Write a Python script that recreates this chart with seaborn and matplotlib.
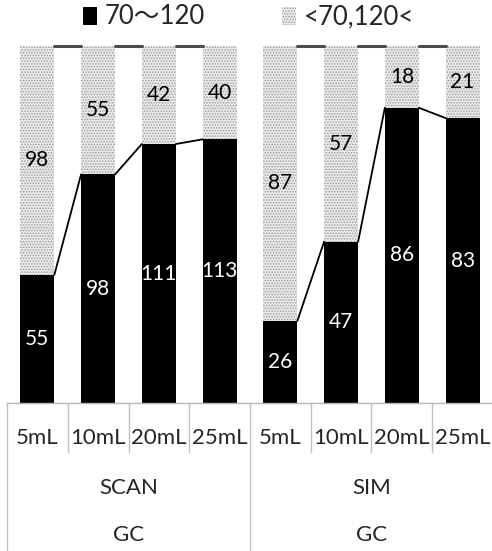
import matplotlib
matplotlib.use("Agg")
import matplotlib.pyplot as plt
from matplotlib.patches import Patch
import seaborn as sns
import pandas as pd

# Counts per acquisition mode and sample volume
modes = ["SCAN", "SCAN", "SCAN", "SCAN", "SIM", "SIM", "SIM", "SIM"]
volumes = ["5mL", "10mL", "20mL", "25mL", "5mL", "10mL", "20mL", "25mL"]
in_range = [55, 98, 111, 113, 26, 47, 86, 83]      # 70～120
out_range = [98, 55, 42, 40, 87, 57, 18, 21]       # <70,120<
instrument = "GC"
legend_labels = ["70～120", "<70,120<"]

sns.set_theme(style="white")
plt.rcParams["font.family"] = ["Lato", "Noto Sans CJK JP", "DejaVu Sans"]
plt.rcParams["hatch.linewidth"] = 0.7

df = pd.DataFrame({"mode": modes, "volume": volumes,
                   "inside": in_range, "outside": out_range})
df["slot"] = df["mode"] + " " + df["volume"]
df["total"] = df["inside"] + df["outside"]
df["inside_share"] = df["inside"] / df["total"]
df["full"] = df["total"] / df["total"]

W, H = 492, 551
fig = plt.figure(figsize=(W / 100, H / 100), dpi=100)
ax = fig.add_axes([7 / W, (H - 403) / H, 486 / W, (403 - 46) / H])

bar_w = 0.56
light = "#e9e9e9"
sns.barplot(data=df, x="slot", y="full", order=list(df["slot"]), color=light,
            saturation=1, width=bar_w, errorbar=None, edgecolor="#9a9a9a",
            linewidth=0, hatch="......", ax=ax)
sns.barplot(data=df, x="slot", y="inside_share", order=list(df["slot"]),
            color="black", saturation=1, width=bar_w, errorbar=None,
            linewidth=0, ax=ax)

ax.set_xlim(-0.5, len(df) - 0.5)
ax.set_ylim(0, 1)
ax.set_xlabel("")
ax.set_ylabel("")
ax.set_xticks([])
ax.set_yticks([])
for s in ["top", "left", "right"]:
    ax.spines[s].set_visible(False)
ax.spines["bottom"].set_color("#b5b5b5")
ax.spines["bottom"].set_linewidth(1)

# value labels
for i, row in df.iterrows():
    share = row["inside_share"]
    ax.text(i, share / 2, f"{row['inside']}", ha="center", va="center",
            color="white", fontsize=15)
    ax.text(i, share + (1 - share) / 2, f"{row['outside']}", ha="center",
            va="center", color="black", fontsize=15)

# series lines between neighbouring bars of the same mode
for i in range(len(df) - 1):
    if df.loc[i, "mode"] != df.loc[i + 1, "mode"]:
        continue
    x0, x1 = i + bar_w / 2, i + 1 - bar_w / 2
    ax.plot([x0, x1], [df.loc[i, "inside_share"], df.loc[i + 1, "inside_share"]],
            color="black", lw=1.3, clip_on=False, zorder=5)
    ax.plot([x0, x1], [df.loc[i, "full"], df.loc[i + 1, "full"]],
            color="#4d4d4d", lw=2.2, clip_on=False, zorder=5)

# multi-level category axis
tr = ax.get_xaxis_transform()
grid_c = "#c0c0c0"
row_mL, row_mode, row_inst = -0.098, -0.238, -0.370
inner_bottom, outer_bottom = -0.137, -0.45
n = len(df)
for i in range(n + 1):
    xb = i - 0.5
    outer = (i == 0) or (i == n) or (i < n and df.loc[i, "mode"] != df.loc[i - 1, "mode"])
    ax.plot([xb, xb], [0, outer_bottom if outer else inner_bottom], color=grid_c,
            lw=1, transform=tr, clip_on=False)
for i, v in enumerate(df["volume"]):
    ax.text(i, row_mL, v, transform=tr, ha="center", va="center", fontsize=16)
for m in dict.fromkeys(df["mode"]):
    idx = df.index[df["mode"] == m]
    xc = (idx.min() + idx.max()) / 2
    ax.text(xc, row_mode, m, transform=tr, ha="center", va="center", fontsize=16)
    ax.text(xc, row_inst, instrument, transform=tr, ha="center", va="center",
            fontsize=16)

handles = [Patch(facecolor="black", edgecolor="black", linewidth=0),
           Patch(facecolor=light, edgecolor="#9a9a9a", hatch="......", linewidth=0)]
fig.legend(handles, legend_labels, loc="center", bbox_to_anchor=(0.505, 1 - 17 / H),
           ncol=2, frameon=False, fontsize=18.5, handlelength=0.55, handleheight=0.7,
           handletextpad=0.3, columnspacing=3.0)

fig.savefig("out.png", dpi=100)
